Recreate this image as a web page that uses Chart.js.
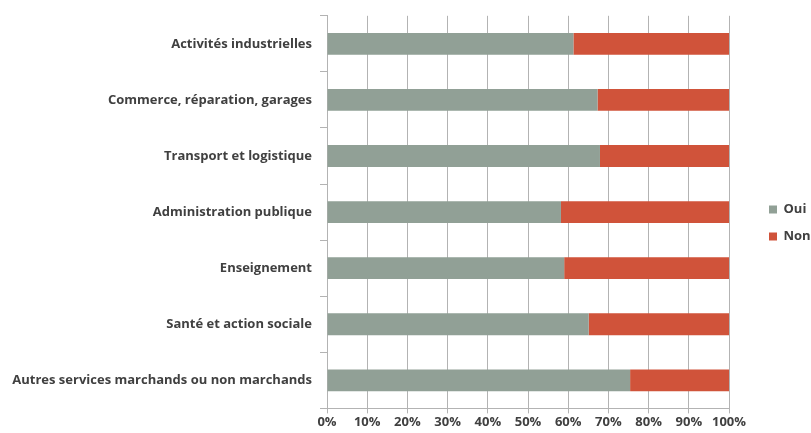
<!DOCTYPE html>
<html><head><meta charset="utf-8">
<script src="https://cdn.jsdelivr.net/npm/chart.js@4"></script>
<style>html,body{margin:0;padding:0;background:#fff}#w{width:811px;height:433px}</style>
</head><body><div id="w"><canvas id="c" width="811" height="433"></canvas></div>
<script>
const categories = ["Activités industrielles","Commerce, réparation, garages","Transport et logistique","Administration publique","Enseignement","Santé et action sociale","Autres services marchands ou non marchands"];
const oui = [61.3, 67.3, 67.9, 58.2, 59.0, 65.1, 75.4];
const non = oui.map(v => +(100 - v).toFixed(1));
const xTicks = [0,10,20,30,40,50,60,70,80,90,100];

const FONT = "'Open Sans', 'Liberation Sans', Arial, sans-serif";
const TXT = '#404040';
const GRID = '#b3b3b3';

const legendFix = {
  id: 'legendFix',
  afterInit(chart){
    const lg = chart.legend;
    const orig = lg.fit;
    lg.fit = function(){ orig.call(this); this.width = 82; };
  },
  afterLayout(chart){
    chart.legend.left += 26;
    chart.legend.top += 2;
  }
};

new Chart(document.getElementById('c'), {
  type: 'bar',
  data: {
    labels: categories,
    datasets: [
      {label:'Oui', data: oui, backgroundColor:'#91a096', barPercentage:0.39, categoryPercentage:1},
      {label:'Non', data: non, backgroundColor:'#d0533a', barPercentage:0.39, categoryPercentage:1}
    ]
  },
  options: {
    indexAxis: 'y',
    responsive: false,
    animation: false,
    layout: {padding: {top: 13, left: 0, right: 0, bottom: 2}},
    plugins: {
      legend: {
        position: 'right',
        labels: {boxWidth: 8, boxHeight: 8, padding: 14, color: TXT, font: {family: FONT, size: 13, weight: 'bold'}}
      },
      tooltip: {enabled: false}
    },
    scales: {
      x: {
        stacked: true, min: 0, max: 100,
        afterBuildTicks(s){ s.ticks = xTicks.map(v => ({value: v})); },
        ticks: {callback: v => v + '%', color: TXT, font: {family: FONT, size: 13, weight: 'bold'}, padding: 1, maxRotation: 0},
        grid: {color: GRID, lineWidth: 1, tickLength: 5, drawTicks: true},
        border: {color: GRID}
      },
      y: {
        stacked: true,
        afterFit(s){ s.width = 327; },
        ticks: {color: TXT, font: {family: FONT, size: 13, weight: 'bold'}, padding: 8},
        grid: {offset: true, drawOnChartArea: false, color: GRID, tickLength: 7},
        border: {color: GRID}
      }
    }
  },
  plugins: [legendFix]
});
</script></body></html>
